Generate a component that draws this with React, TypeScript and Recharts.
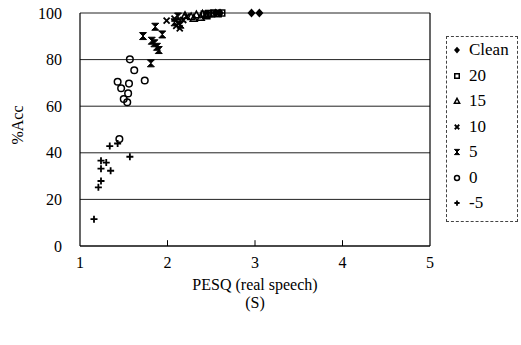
import { ScatterChart, Scatter, XAxis, YAxis, CartesianGrid, ReferenceLine } from "recharts";

// [PESQ, %Acc] pairs per SNR condition
const cleanPts = [[2.55, 100], [2.6, 100], [2.96, 100], [3.05, 100]];
const snr20Pts = [[2.42, 99.5], [2.47, 99.8], [2.5, 99.6], [2.53, 100], [2.58, 99.7], [2.62, 100], [2.45, 99]];
const snr15Pts = [[2.2, 99], [2.27, 98.5], [2.33, 99.3], [2.38, 98.2], [2.4, 99.6], [2.44, 98.8], [2.3, 97.8]];
const snr10Pts = [[1.99, 96.7], [2.08, 97.6], [2.12, 95.6], [2.14, 93.4], [2.18, 97], [2.22, 98.5], [2.1, 94.5]];
const snr5Pts = [[1.72, 90.1], [1.86, 94.1], [1.94, 90.8], [1.82, 88.1], [1.85, 87], [1.88, 85.5], [1.9, 84.1], [1.81, 78.4], [2.08, 96], [2.12, 98.5], [2.15, 95]];
const snr0Pts = [[1.57, 80.1], [1.62, 75.4], [1.43, 70.5], [1.56, 69.7], [1.74, 71], [1.47, 67.7], [1.55, 65.5], [1.5, 63.1], [1.54, 61.7], [1.45, 45.9]];
const snrM5Pts = [[1.16, 11.5], [1.21, 25.2], [1.24, 27.9], [1.24, 33.2], [1.35, 32.3], [1.24, 36.6], [1.3, 35.8], [1.57, 38.3], [1.34, 42.9], [1.43, 44]];

const seriesNames = ["Clean", "20", "15", "10", "5", "0", "-5"];
const seriesKinds = ["diamond", "square", "triangle", "cross", "bowtie", "circle", "plus"];
const seriesPts = [cleanPts, snr20Pts, snr15Pts, snr10Pts, snr5Pts, snr0Pts, snrM5Pts];

const xTicks = [1, 2, 3, 4, 5];
const yTicks = [0, 20, 40, 60, 80, 100];

const FONT = "'Liberation Serif', 'DejaVu Serif', serif";

function Marker({ kind, cx, cy, s = 1 }: { kind: string; cx: number; cy: number; s?: number }) {
    const k = s;
    switch (kind) {
        case "diamond":
            return <path d={`M${cx},${cy - 4.5 * k} L${cx + 4 * k},${cy} L${cx},${cy + 4.5 * k} L${cx - 4 * k},${cy} Z`} fill="#000" />;
        case "square":
            return <rect x={cx - 3 * k} y={cy - 3 * k} width={6 * k} height={6 * k} fill="none" stroke="#000" strokeWidth={1.5} />;
        case "triangle":
            return <path d={`M${cx},${cy - 3.5 * k} L${cx + 3.5 * k},${cy + 3 * k} L${cx - 3.5 * k},${cy + 3 * k} Z`} fill="none" stroke="#000" strokeWidth={1.5} />;
        case "cross":
            return <path d={`M${cx - 3 * k},${cy - 3 * k} L${cx + 3 * k},${cy + 3 * k} M${cx + 3 * k},${cy - 3 * k} L${cx - 3 * k},${cy + 3 * k}`} stroke="#000" strokeWidth={1.8} />;
        case "bowtie":
            return <path d={`M${cx - 3.5 * k},${cy - 3.5 * k} L${cx + 3.5 * k},${cy - 3.5 * k} L${cx - 3.5 * k},${cy + 3.5 * k} L${cx + 3.5 * k},${cy + 3.5 * k} Z`} fill="#000" stroke="#000" strokeWidth={1} />;
        case "circle":
            return <circle cx={cx} cy={cy} r={3.3 * k} fill="none" stroke="#000" strokeWidth={1.5} />;
        default:
            return <path d={`M${cx - 3.5 * k},${cy} L${cx + 3.5 * k},${cy} M${cx},${cy - 3.5 * k} L${cx},${cy + 3.5 * k}`} stroke="#000" strokeWidth={1.8} />;
    }
}

export default function App() {
    const tickStyle = { fontFamily: FONT, fontSize: 16, fill: "#000" };
    return (
        <div style={{ position: "absolute", left: 0, top: 0, width: 521, height: 345, background: "#fff" }}>
            <ScatterChart width={521} height={345} margin={{ top: 13, right: 91, bottom: 69, left: 0 }}>
                <CartesianGrid horizontal vertical={false} stroke="#222" strokeWidth={1} />
                <XAxis
                    type="number"
                    dataKey="x"
                    domain={[1, 5]}
                    ticks={xTicks}
                    tickLine={false}
                    axisLine={{ stroke: "#000", strokeWidth: 1.2 }}
                    tick={tickStyle}
                    tickMargin={5}
                    height={30}
                />
                <YAxis
                    type="number"
                    dataKey="y"
                    domain={[0, 100]}
                    ticks={yTicks}
                    tickLine={false}
                    axisLine={{ stroke: "#000", strokeWidth: 1.2 }}
                    tick={tickStyle}
                    tickMargin={12}
                    width={80}
                />
                <ReferenceLine x={5} stroke="#000" strokeWidth={1.2} />
                {[2, 3, 4].map((t) => (
                    <ReferenceLine key={t} segment={[{ x: t, y: 0 }, { x: t, y: 2.5 }]} stroke="#000" strokeWidth={1} />
                ))}
                {seriesPts.map((pts, i) => (
                    <Scatter
                        key={seriesNames[i]}
                        name={seriesNames[i]}
                        data={pts.map(([x, y]) => ({ x, y }))}
                        isAnimationActive={false}
                        shape={(p: any) => <Marker kind={seriesKinds[i]} cx={p.cx} cy={p.cy} />}
                    />
                ))}
            </ScatterChart>

            {/* axis titles */}
            <div style={{ position: "absolute", left: 18, top: 125, transform: "translate(-50%, -50%) rotate(-90deg)", fontFamily: FONT, fontSize: 16, whiteSpace: "nowrap" }}>
                %Acc
            </div>
            <div style={{ position: "absolute", left: 155, width: 200, top: 276, textAlign: "center", fontFamily: FONT, fontSize: 16, lineHeight: "18px" }}>
                PESQ (real speech)
                <br />
                (S)
            </div>

            {/* legend */}
            <div style={{ position: "absolute", left: 446, top: 36, width: 72, height: 186, border: "1px dashed #444", boxSizing: "border-box", fontFamily: FONT, fontSize: 17 }}>
                {seriesNames.map((n, i) => (
                    <div key={n} style={{ position: "absolute", left: 4, top: 2 + i * 25.5, height: 22, display: "flex", alignItems: "center" }}>
                        <svg width={12} height={12} style={{ marginRight: 6 }}>
                            <Marker kind={seriesKinds[i]} cx={6} cy={6} s={0.75} />
                        </svg>
                        {n}
                    </div>
                ))}
            </div>
        </div>
    );
}
